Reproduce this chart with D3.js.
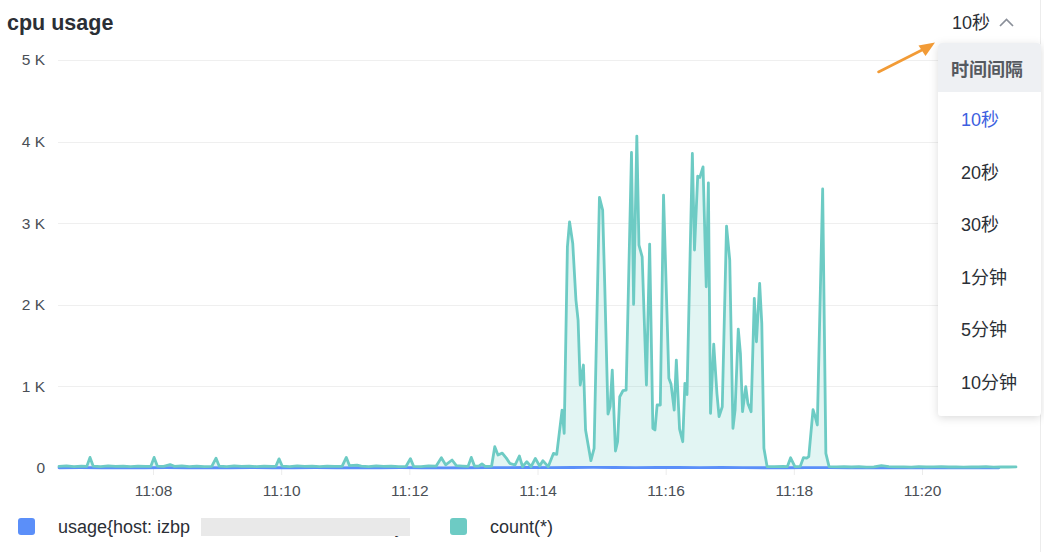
<!DOCTYPE html>
<html>
<head>
<meta charset="utf-8">
<script src="https://cdn.jsdelivr.net/npm/d3@7/dist/d3.min.js"></script>
<style>
  html, body { margin: 0; padding: 0; background: #fff; }
  svg { display: block; }
  text { font-family: "Helvetica Neue", Helvetica, "Liberation Sans", Arial, "Noto Sans CJK SC", sans-serif; }
</style>
</head>
<body>
<svg id="chart" width="1044" height="552"></svg>
<script>
// ---------------- DATA ----------------
const chartTitle = "cpu usage";
const startTime = "11:06:30";
const endTime = "11:21:30";

// count(*) series: seconds after startTime, and values
const countSeconds = [
  2, 9, 16, 23, 28, 31, 34, 41, 48, 55, 62, 69, 76, 83, 88, 91, 94, 100, 106, 110,
  117, 124, 131, 138, 145, 149, 152, 159, 166, 173, 180, 187, 194, 201, 205, 208, 211, 218, 225, 232,
  239, 246, 253, 260, 267, 271, 274, 281, 285, 292, 299, 306, 313, 320, 327, 331, 334, 341, 348, 355,
  360, 364, 370, 374, 380, 385, 388, 391, 395, 398, 401, 407,
  410, 413, 417, 421, 424, 429, 433, 436, 440, 444, 448, 452, 455, 460, 465, 468,
  473, 475, 478, 480, 483, 486, 488, 490, 493, 495, 500, 503, 508, 511, 513, 516, 518, 520, 523, 525,
  527, 530, 533, 538, 540, 543, 545, 548, 552, 555, 558, 560, 562, 565, 568, 573, 575, 578, 580, 583,
  586, 588, 590, 595, 597, 600, 602, 605, 608, 610, 612, 615, 618, 620, 623, 627, 630, 633, 635, 638,
  640, 642, 645, 647, 650, 653, 655, 658, 660, 662, 665, 672, 680, 684, 687, 691, 696, 699, 702, 704,
  708, 710, 712, 717, 720, 723,
  730, 737, 744, 751, 758, 765, 772, 779, 786, 793, 800, 807, 814, 821, 828, 835, 842, 849, 856, 863,
  870, 877, 884, 891, 898
];
const countValues = [
  20, 26, 18, 24, 20, 130, 22, 17, 25, 19, 24, 16, 23, 19, 21, 130, 24, 19, 42, 20,
  26, 18, 23, 17, 21, 120, 22, 17, 25, 19, 24, 16, 23, 19, 21, 112, 22, 17, 25, 19,
  24, 16, 23, 19, 20, 130, 28, 36, 22, 17, 25, 19, 24, 16, 21, 115, 20, 16, 25, 22,
  126, 38, 98, 30, 24, 20, 130, 24, 22, 50, 21, 22,
  261, 159, 183, 118, 57, 37, 147, 16, 77, 16, 118, 25, 90, 16, 180, 168,
  710, 425, 2711, 3017, 2752, 2058, 1813, 1017, 1262, 466, 90, 241, 3316, 3160, 2221, 661, 751, 1200, 208, 322,
  873, 947, 955, 3867, 2005, 4067, 2732, 2588, 1017, 2744, 486, 466, 772, 772, 3344, 1100, 1030, 710, 1323, 480,
  322, 1037, 900, 3855, 2671, 3577, 3561, 3691, 2221, 3495, 670, 1519, 915, 629, 751, 2965, 2548, 486, 710, 1703,
  1405, 690, 996, 792, 690, 2079, 1547, 2263, 1773, 241, 16, 18, 20, 18, 125, 18, 20, 126, 120, 139,
  715, 629, 527, 3420, 180, 16,
  14, 18, 12, 16, 11, 15, 28, 17, 13, 15, 11, 16, 12, 14, 18, 12, 15, 11, 14, 12,
  16, 11, 14, 12, 13
];

// usage series: sampled every usageStepSeconds starting at usageStartSecond
const usageStartSecond = 2;
const usageStepSeconds = 20;
const usageValues = [
  3, 4, 3, 2, 3, 4, 3, 3, 2, 4, 3, 3, 4, 2, 3, 3, 4, 3, 2, 3,
  4, 5, 6, 5, 6, 7, 6, 5, 6, 6, 5, 6, 4, 3, 3, 4, 5, 3, 2, 3,
  3, 2, 3, 3, 2
];

const yTickValues = [0, 1000, 2000, 3000, 4000, 5000];
const xTickLabels = ["11:08", "11:10", "11:12", "11:14", "11:16", "11:18", "11:20"];
const seriesNames = ["usage{host: izbp", "count(*)"];
const seriesColors = ["#5b8ff9", "#6dcbc4"];
const intervalTitle = "时间间隔";
const intervalOptions = ["10秒", "20秒", "30秒", "1分钟", "5分钟", "10分钟"];
const selectedInterval = "10秒";

// ---------------- CHART ----------------
const svg = d3.select("#chart");
const parse = d3.timeParse("%Y-%m-%d %H:%M:%S");
const day = "2023-01-01 ";
const t0 = parse(day + startTime);
const t1 = parse(day + endTime);
const sec = s => new Date(t0.getTime() + s * 1000);

const countData = countSeconds.map((s, i) => ({ t: sec(s), v: countValues[i] }));
const usageData = usageValues.map((v, i) => ({ t: sec(usageStartSecond + i * usageStepSeconds), v }));

const x = d3.scaleTime().domain([t0, t1]).range([56.9, 1018.1]);
const y = d3.scaleLinear().domain([0, 5000]).range([468, 60]);

const plotLeft = 58, plotRight = 1018;

// card edge
svg.append("line").attr("x1", 1040.5).attr("x2", 1040.5).attr("y1", 0).attr("y2", 552)
  .attr("stroke", "#ececec").attr("stroke-width", 1);

// title
svg.append("text").attr("x", 7).attr("y", 30).text(chartTitle)
  .attr("font-size", 21.5).attr("font-weight", 600).attr("fill", "#2b2f36");

// gridlines
svg.append("g").selectAll("line").data(yTickValues.filter(d => d > 0)).join("line")
  .attr("x1", plotLeft).attr("x2", plotRight)
  .attr("y1", d => Math.round(y(d)) + 0.5).attr("y2", d => Math.round(y(d)) + 0.5)
  .attr("stroke", "#efefef").attr("stroke-width", 1);

// y axis
const yAxis = d3.axisLeft(y).tickValues(yTickValues).tickSize(0).tickPadding(13)
  .tickFormat(d => d === 0 ? "0" : (d / 1000) + " K");
const yg = svg.append("g").attr("transform", `translate(${plotLeft},0)`).call(yAxis);
yg.select(".domain").remove();
yg.selectAll("text").attr("font-size", 15.5).attr("fill", "#4a4f56")
  .style("font-family", "\"Helvetica Neue\", Helvetica, \"Liberation Sans\", Arial, sans-serif");

// x axis
const xTickTimes = xTickLabels.map(s => parse(day + s + ":00"));
const xAxis = d3.axisBottom(x).tickValues(xTickTimes).tickFormat(d3.timeFormat("%H:%M"))
  .tickSize(7).tickPadding(10);
const xg = svg.append("g").attr("transform", "translate(0,468)").call(xAxis);
xg.select(".domain").remove();
xg.selectAll(".tick line").attr("stroke", "#ececec");
xg.selectAll("text").attr("font-size", 15.5).attr("fill", "#4a4f56")
  .style("font-family", "\"Helvetica Neue\", Helvetica, \"Liberation Sans\", Arial, sans-serif");

// series
const area = d3.area().x(d => x(d.t)).y0(y(0)).y1(d => y(d.v));
const line = d3.line().x(d => x(d.t)).y(d => y(d.v));

svg.append("path").datum(usageData).attr("d", area)
  .attr("fill", seriesColors[0]).attr("fill-opacity", 0.15);
svg.append("path").datum(countData).attr("d", area)
  .attr("fill", seriesColors[1]).attr("fill-opacity", 0.2);
svg.append("path").datum(usageData).attr("d", line)
  .attr("fill", "none").attr("stroke", seriesColors[0]).attr("stroke-width", 2.8)
  .attr("stroke-linejoin", "round").attr("stroke-linecap", "round");
svg.append("path").datum(countData).attr("d", line)
  .attr("fill", "none").attr("stroke", seriesColors[1]).attr("stroke-width", 2.8)
  .attr("stroke-linejoin", "round").attr("stroke-linecap", "round");

// legend
const legendX = [18, 450];
const lg = svg.append("g").selectAll("g").data(seriesNames).join("g")
  .attr("transform", (d, i) => `translate(${legendX[i]},518)`);
lg.append("rect").attr("width", 17).attr("height", 17).attr("rx", 3)
  .attr("fill", (d, i) => seriesColors[i]);
lg.append("text").attr("x", 40).attr("y", 15).text(d => d)
  .attr("font-size", 18).attr("fill", "#2b2f36");
// closing brace of the masked host name, then mask
svg.append("text").attr("x", 395).attr("y", 533).text("}")
  .attr("font-size", 18).attr("fill", "#2b2f36");
svg.append("rect").attr("x", 201).attr("y", 518).attr("width", 209).attr("height", 18)
  .attr("fill", "#e9e9e9");

// interval selector
svg.append("text").attr("x", 952).attr("y", 29).text(selectedInterval)
  .attr("font-size", 18).attr("fill", "#2b2f36");
svg.append("path").attr("d", "M1000,26 L1006.5,19.5 L1013,26")
  .attr("fill", "none").attr("stroke", "#8a8f99").attr("stroke-width", 1.7);

// arrow annotation
svg.append("line").attr("x1", 878.5).attr("y1", 72).attr("x2", 925).attr("y2", 48.5)
  .attr("stroke", "#f29b36").attr("stroke-width", 2.6).attr("stroke-linecap", "round");
svg.append("path").attr("d", "M935,42.5 L918.5,45.5 L925.5,56 Z").attr("fill", "#f29b36");

// dropdown
const defs = svg.append("defs");
const f = defs.append("filter").attr("id", "shadow").attr("x", "-30%").attr("y", "-10%")
  .attr("width", "160%").attr("height", "120%");
f.append("feDropShadow").attr("dx", 0).attr("dy", 2).attr("stdDeviation", 4)
  .attr("flood-color", "#000").attr("flood-opacity", 0.14);
const dd = svg.append("g").attr("transform", "translate(938,43)");
dd.append("rect").attr("width", 103).attr("height", 373).attr("rx", 4)
  .attr("fill", "#fff").attr("filter", "url(#shadow)");
dd.append("path").attr("d", "M0,4 Q0,0 4,0 L99,0 Q103,0 103,4 L103,49 L0,49 Z").attr("fill", "#eef0f3");
dd.append("text").attr("x", 13).attr("y", 33).text(intervalTitle)
  .attr("font-size", 18).attr("font-weight", 700).attr("fill", "#55595f");
dd.selectAll("text.opt").data(intervalOptions).join("text").attr("class", "opt")
  .attr("x", 23).attr("y", (d, i) => 83 + i * 52.6).text(d => d)
  .attr("font-size", 18).attr("fill", d => d === selectedInterval ? "#3d5fe0" : "#2b2f36");
</script>
</body>
</html>
